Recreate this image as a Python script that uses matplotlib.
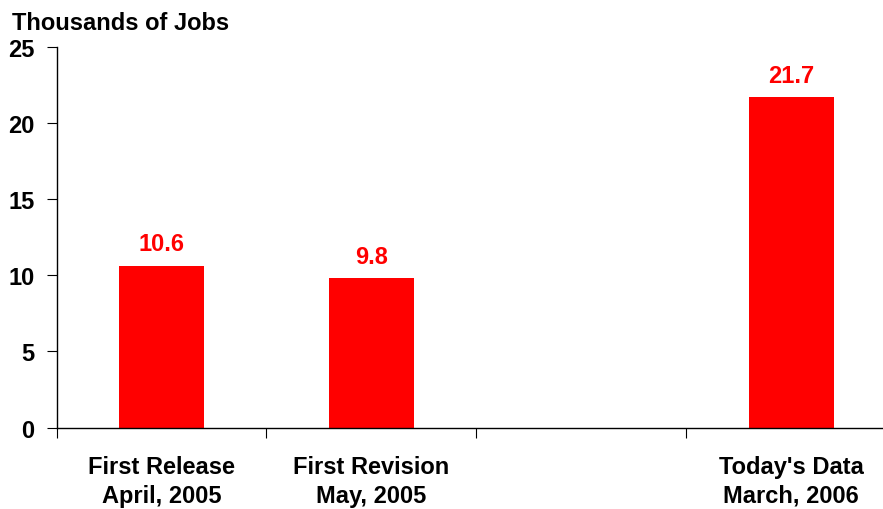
import numpy as np
import matplotlib.pyplot as plt

plt.rcParams['font.family'] = ['Liberation Sans', 'DejaVu Sans']
plt.rcParams['font.weight'] = 'bold'

# Jobs (thousands) by release; third slot is left empty
labels = ["First Release\nApril, 2005", "First Revision\nMay, 2005", "", "Today's Data\nMarch, 2006"]
values = [10.6, 9.8, None, 21.7]
value_text = ["10.6", "9.8", "", "21.7"]

fig = plt.figure(figsize=(8.83, 5.10), dpi=100)
ax = fig.add_axes([0.064, 0.1598, 0.9507, 0.7462])

x = np.arange(len(labels))
for i, v in enumerate(values):
    if v is None:
        continue
    ax.bar(x[i], v, width=0.405, color="#ff0000", zorder=2)
    ax.text(x[i], v + 0.7, value_text[i], ha="center", va="bottom",
            color="#ff0000", fontsize=17, fontweight="bold")

ax.set_xlim(-0.5, len(labels) - 0.5)
ax.set_ylim(0, 25)
ax.set_yticks([0, 5, 10, 15, 20, 25])
ax.set_xticks(np.arange(len(labels) + 1) - 0.5)
ax.set_xticklabels([])
ax.set_xticks(x, minor=True)
ax.set_xticklabels(labels, minor=True, fontsize=17, fontweight="bold", linespacing=1.3)
ax.tick_params(axis="x", which="minor", length=0, pad=20)
ax.tick_params(axis="x", which="major", length=7, width=0.8, direction="out")
ax.tick_params(axis="y", length=7, width=0.8, pad=9, labelsize=17)
for lab in ax.get_yticklabels():
    lab.set_fontweight("bold")

ax.spines["top"].set_visible(False)
ax.spines["right"].set_visible(False)
ax.spines["left"].set_linewidth(1.0)
ax.spines["bottom"].set_linewidth(1.0)

fig.text(12 / 883, 1 - 24 / 510, "Thousands of Jobs", ha="left", va="center",
         fontsize=17, fontweight="bold")

fig.savefig("out.png", dpi=100)
